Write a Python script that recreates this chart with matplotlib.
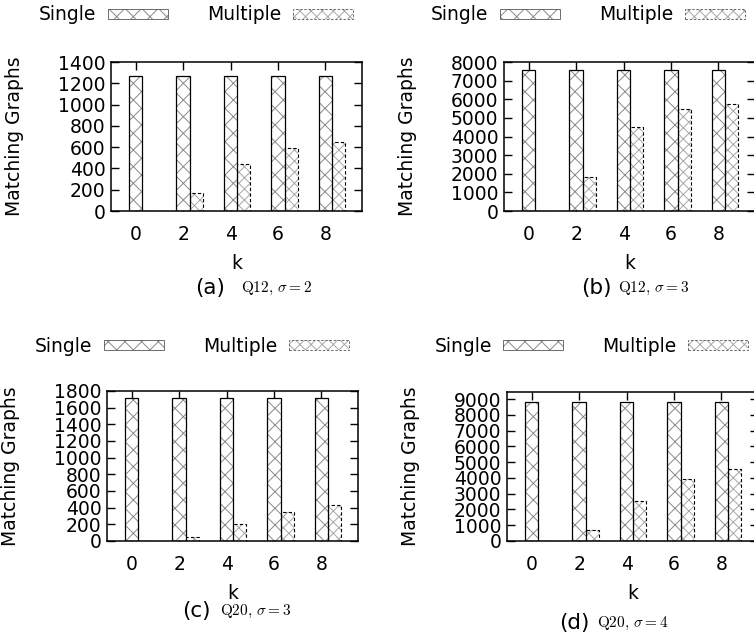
import numpy as np
import matplotlib
matplotlib.use("Agg")
import matplotlib.pyplot as plt
from matplotlib.patches import Patch
from matplotlib.legend_handler import HandlerTuple

plt.rcParams['font.family'] = ['DejaVu Sans']
plt.rcParams['mathtext.fontset'] = 'cm'
plt.rcParams['hatch.linewidth'] = 0.7

# data
k_labels = ['0', '2', '4', '6', '8']

single_a = [1270, 1270, 1270, 1268, 1268]
multiple_a = [0, 166, 438, 589, 651]

single_b = [7570, 7570, 7570, 7560, 7560]
multiple_b = [0, 1843, 4528, 5494, 5763]

single_c = [1720, 1720, 1720, 1720, 1720]
multiple_c = [0, 52, 209, 346, 438]

single_d = [8830, 8830, 8830, 8830, 8830]
multiple_d = [0, 681, 2511, 3915, 4574]

W, H = 754, 637
fig = plt.figure(figsize=(W / 100, H / 100), dpi=100)

GRAY = '#8a8a8a'
LGRAY = '#a8a8a8'
BW = 0.28
FS = 13.5


def px_axes(left, top, right, bottom):
    return fig.add_axes([left / W, 1 - bottom / H, (right - left) / W, (bottom - top) / H])


def draw_panel(ax, single, multiple, ymax, ystep):
    x = np.arange(len(k_labels))
    # hatch layer (gray) then outline layer (black)
    ax.bar(x, single, BW, color='white', edgecolor=GRAY, hatch='xx', linewidth=0, zorder=2)
    ax.bar(x, single, BW, fill=False, edgecolor='black', linewidth=0.9, zorder=3)
    ax.bar(x + BW, multiple, BW, color='white', edgecolor=LGRAY, hatch='xxx', linewidth=0, zorder=2)
    ax.bar(x + BW, multiple, BW, fill=False, edgecolor='black', linewidth=0.8,
           linestyle=(0, (3, 2)), zorder=3)
    ax.set_xlim(-0.52, 4.77)
    ax.set_ylim(0, ymax)
    ax.set_xticks(x)
    ax.set_xticklabels(k_labels)
    ax.set_yticks(np.arange(0, ymax + 1, ystep))
    ax.tick_params(direction='in', length=6, width=1, top=True, right=True,
                   labelsize=13.5, zorder=1)
    ax.tick_params(axis='x', pad=10)
    ax.tick_params(axis='y', pad=4)
    for s in ax.spines.values():
        s.set_linewidth(1.1)
    ax.set_xlabel('k', fontsize=FS, va='center')
    ax.xaxis.set_label_coords(0.5, -0.35)
    ax.set_ylabel('Matching Graphs', fontsize=FS, va='center')
    ax.yaxis.set_label_coords(-0.385, 0.5)


def add_legend(ax, cx, cy):
    h_single = (Patch(facecolor='white', edgecolor=GRAY, hatch='xx', linewidth=0),
                Patch(fill=False, edgecolor='#555555', linewidth=0.6))
    h_multi = (Patch(facecolor='white', edgecolor=LGRAY, hatch='xxx', linewidth=0),
               Patch(fill=False, edgecolor='#555555', linewidth=0.6, linestyle=(0, (3, 2))))
    ax.legend([h_single, h_multi], ['Single', 'Multiple'],
              handler_map={tuple: HandlerTuple(ndivide=1)},
              ncol=2, markerfirst=False, frameon=False, fontsize=FS,
              handlelength=3.2, handleheight=0.45, handletextpad=0.6,
              columnspacing=2.1, loc='center',
              bbox_to_anchor=(cx / W, 1 - cy / H), bbox_transform=fig.transFigure)


def add_caption(letter, x_letter, x_math, y, text):
    fig.text(x_letter / W, 1 - y / H, letter, fontsize=15.5, ha='left', va='center')
    fig.text(x_math / W, 1 - y / H, text, fontsize=11, ha='left', va='center')


ax_a = px_axes(111, 62, 362, 211)
draw_panel(ax_a, single_a, multiple_a, 1400, 200)
add_legend(ax_a, 196, 15)
add_caption('(a)', 195, 241, 288, r'$\mathrm{Q12},\,\sigma = 2$')

ax_b = px_axes(504, 62, 755, 211)
draw_panel(ax_b, single_b, multiple_b, 8000, 1000)
add_legend(ax_b, 588, 15)
add_caption('(b)', 581, 618, 288, r'$\mathrm{Q12},\,\sigma = 3$')

ax_c = px_axes(107, 391, 358, 541)
draw_panel(ax_c, single_c, multiple_c, 1800, 200)
add_legend(ax_c, 192, 346)
add_caption('(c)', 182, 220, 611, r'$\mathrm{Q20},\,\sigma = 3$')

ax_d = px_axes(507, 392, 758, 541)
draw_panel(ax_d, single_d, multiple_d, 9450, 1000)
add_legend(ax_d, 591, 346)
add_caption('(d)', 559, 597, 623, r'$\mathrm{Q20},\,\sigma = 4$')

fig.savefig('out.png', dpi=100)
